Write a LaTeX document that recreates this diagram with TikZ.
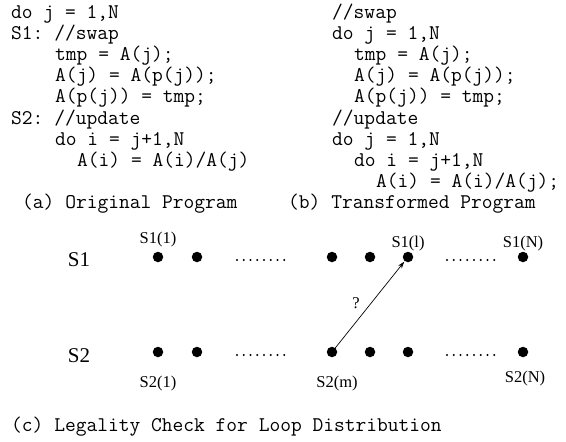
\documentclass[tikz,border=0pt]{standalone}
\usepackage{fontspec}
\setmainfont{Liberation Serif}
\usetikzlibrary{arrows.meta}
\frenchspacing
\begin{document}
\begin{tikzpicture}[x=1pt,y=-1pt,
  code/.style={anchor=base west,inner sep=0pt,font=\fontsize{20.9}{24}\selectfont\ttfamily},
  bigl/.style={inner sep=0pt,anchor=base,font=\fontsize{21}{24}\selectfont},
  lab/.style={inner sep=0pt,anchor=base,font=\fontsize{16.5}{19}\selectfont},
  pt/.style={circle,fill=black,inner sep=0pt,minimum size=10.5pt},
  dotrow/.style={line width=2.4pt,line cap=round,dash pattern=on 0pt off 6.75pt},
  dep/.style={-{Stealth[length=7pt,width=4.5pt]},line width=0.7pt,shorten >=0.5pt}]
\useasboundingbox (0,0) rectangle (566,442);
% (a) original program
\node[code] (a0) at (11,18.5)  {do j = 1,N};
\node[code] (a1) at (11,39.6)  {S1: //swap};
\node[code] (a2) at (55,60.7)  {tmp = A(j);};
\node[code] (a3) at (55,81.8)  {A(j) = A(p(j));};
\node[code] (a4) at (55,102.9) {A(p(j)) = tmp;};
\node[code] (a5) at (11,124)   {S2: //update};
\node[code] (a6) at (55,145.1) {do i = j+1,N};
\node[code] (a7) at (77,166.2) {A(i) = A(i)/A(j)};
\node[code] (capa) at (22,208) {(a) Original Program};
% (b) transformed program
\node[code] (b0) at (332,18.5)  {//swap};
\node[code] (b1) at (332,39.6)  {do j = 1,N};
\node[code] (b2) at (354,60.7)  {tmp = A(j);};
\node[code] (b3) at (354,81.8)  {A(j) = A(p(j));};
\node[code] (b4) at (354,102.9) {A(p(j)) = tmp;};
\node[code] (b5) at (332,124)   {//update};
\node[code] (b6) at (332,145.1) {do j = 1,N};
\node[code] (b7) at (354,166.2) {do i = j+1,N};
\node[code] (b8) at (376,187.3) {A(i) = A(i)/A(j);};
\node[code] (capb) at (288,208) {(b) Transformed Program};
% (c) legality check
\node[bigl] (S1) at (79,266) {S1};
\node[bigl] (S2) at (79,362) {S2};
\node[pt] (p11) at (158,257) {};
\node[pt] (p12) at (197,257) {};
\node[pt] (p13) at (332,257) {};
\node[pt] (p14) at (370,257) {};
\node[pt] (p1l) at (408,257) {};
\node[pt] (p1N) at (523,257) {};
\node[pt] (p21) at (158,352) {};
\node[pt] (p22) at (197,352) {};
\node[pt] (p2m) at (332,352) {};
\node[pt] (p24) at (370,352) {};
\node[pt] (p25) at (408,352) {};
\node[pt] (p2N) at (523,352) {};
\coordinate (d1a) at (237,260); \coordinate (d1b) at (291,260);
\coordinate (d2a) at (447,260); \coordinate (d2b) at (501,260);
\coordinate (d3a) at (237,355); \coordinate (d3b) at (291,355);
\coordinate (d4a) at (447,355); \coordinate (d4b) at (501,355);
\draw[dotrow] (d1a) -- (d1b);
\draw[dotrow] (d2a) -- (d2b);
\draw[dotrow] (d3a) -- (d3b);
\draw[dotrow] (d4a) -- (d4b);
\node[lab] (l11) at (158,243) {S1(1)};
\node[lab] (l1l) at (408,247) {S1(l)};
\node[lab] (l1N) at (523,247) {S1(N)};
\node[lab] (l21) at (158,387) {S2(1)};
\node[lab] (l2m) at (337,387) {S2(m)};
\node[lab] (l2N) at (525,382) {S2(N)};
\draw[dep] (p2m.center) -- (p1l);
\node[lab] (q) at (356,308) {?};
\node[code] (capc) at (11,431) {(c) Legality Check for Loop Distribution};
\end{tikzpicture}
\end{document}
